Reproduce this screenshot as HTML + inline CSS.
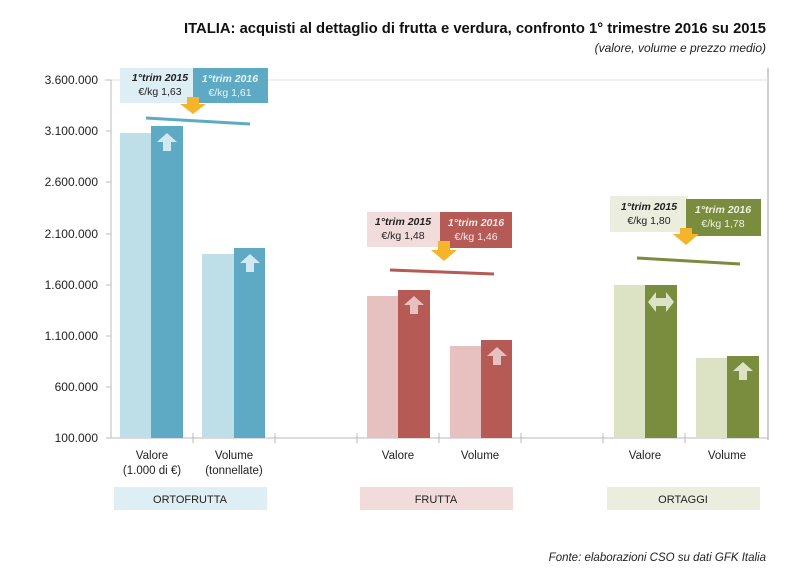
<!DOCTYPE html>
<html><head><meta charset="utf-8"><style>
body{margin:0;background:#fff;width:806px;height:576px;overflow:hidden;font-family:"Liberation Sans",sans-serif}
</style></head><body>
<svg width="806" height="576" viewBox="0 0 806 576" xmlns="http://www.w3.org/2000/svg" font-family="Liberation Sans, sans-serif">
<text x="766" y="33" text-anchor="end" font-size="14.8" font-weight="bold" fill="#111">ITALIA: acquisti al dettaglio di frutta e verdura, confronto 1° trimestre 2016 su 2015</text>
<text x="766" y="52" text-anchor="end" font-size="12" font-style="italic" fill="#222">(valore, volume e prezzo medio)</text>
<text x="766" y="561" text-anchor="end" font-size="11.5" font-style="italic" fill="#222">Fonte: elaborazioni CSO su dati GFK Italia</text>
<line x1="768" y1="68" x2="768" y2="440" stroke="#d0d0d0" stroke-width="2"/>
<line x1="104" y1="80" x2="768" y2="80" stroke="#e0e0e0"/>
<line x1="111" y1="80" x2="111" y2="438" stroke="#bbb"/>
<line x1="111" y1="438" x2="768" y2="438" stroke="#bbb"/>
<g stroke="#bbb">
<line x1="106" y1="80" x2="111" y2="80"/><line x1="106" y1="131" x2="111" y2="131"/><line x1="106" y1="182" x2="111" y2="182"/><line x1="106" y1="234" x2="111" y2="234"/><line x1="106" y1="285" x2="111" y2="285"/><line x1="106" y1="336" x2="111" y2="336"/><line x1="106" y1="387" x2="111" y2="387"/><line x1="106" y1="438" x2="111" y2="438"/>
<line x1="193" y1="433" x2="193" y2="443"/><line x1="275" y1="433" x2="275" y2="443"/><line x1="357" y1="433" x2="357" y2="443"/><line x1="439" y1="433" x2="439" y2="443"/><line x1="521" y1="433" x2="521" y2="443"/><line x1="603" y1="433" x2="603" y2="443"/><line x1="685" y1="433" x2="685" y2="443"/>
</g>
<g font-size="12" fill="#222" text-anchor="end">
<text x="98" y="84">3.600.000</text><text x="98" y="135">3.100.000</text><text x="98" y="186">2.600.000</text><text x="98" y="238">2.100.000</text><text x="98" y="289">1.600.000</text><text x="98" y="340">1.100.000</text><text x="98" y="391">600.000</text><text x="98" y="442">100.000</text>
</g>
<rect x="120" y="133" width="31" height="305" fill="#bfdfe8"/><rect x="151" y="126" width="32" height="312" fill="#5eaac4"/>
<rect x="202" y="254" width="32" height="184" fill="#bfdfe8"/><rect x="234" y="248" width="31" height="190" fill="#5eaac4"/>
<rect x="367" y="296" width="31" height="142" fill="#e6c1c0"/><rect x="398" y="290" width="32" height="148" fill="#b55a55"/>
<rect x="450" y="346" width="31" height="92" fill="#e6c1c0"/><rect x="481" y="340" width="31" height="98" fill="#b55a55"/>
<rect x="614" y="285" width="31" height="153" fill="#dce3c5"/><rect x="645" y="285" width="32" height="153" fill="#7a8c3e"/>
<rect x="696" y="358" width="31" height="80" fill="#dce3c5"/><rect x="727" y="356" width="32" height="82" fill="#7a8c3e"/>
<g fill="#d3e9f0"><polygon points="167,133 157,142 163,142 163,151 171,151 171,142 177,142"/><polygon points="250,254 240,263 246,263 246,272 254,272 254,263 260,263"/></g>
<g fill="#e6c1c0"><polygon points="414,296 404,305 410,305 410,314 418,314 418,305 424,305"/><polygon points="497,347 487,356 493,356 493,365 501,365 501,356 507,356"/></g>
<g fill="#dce3c5"><polygon points="743,362 733,371 739,371 739,380 747,380 747,371 753,371"/><polygon points="648,302 656,292 656,298 666,298 666,292 674,302 666,312 666,306 656,306 656,312"/></g>
<rect x="120" y="68" width="80" height="35" fill="#ddeef4"/><rect x="193" y="68" width="75" height="35" fill="#5eaac4"/>
<rect x="367" y="212" width="73" height="35" fill="#f2dcdb"/><rect x="440" y="212" width="72" height="36" fill="#b55a55"/>
<rect x="610" y="196" width="78" height="36" fill="#ebeede"/><rect x="686" y="199" width="75" height="37" fill="#7a8c3e"/>
<g font-size="10.5" text-anchor="middle">
<text x="160" y="81" font-weight="bold" font-style="italic" fill="#222">1°trim 2015</text><text x="160" y="95" fill="#222">€/kg 1,63</text>
<text x="230" y="82" font-weight="bold" font-style="italic" fill="#e8f4f8">1°trim 2016</text><text x="230" y="96" fill="#e8f4f8">€/kg 1,61</text>
<text x="403" y="225" font-weight="bold" font-style="italic" fill="#222">1°trim 2015</text><text x="403" y="239" fill="#222">€/kg 1,48</text>
<text x="476" y="226" font-weight="bold" font-style="italic" fill="#f8e8e8">1°trim 2016</text><text x="476" y="240" fill="#f8e8e8">€/kg 1,46</text>
<text x="649" y="210" font-weight="bold" font-style="italic" fill="#222">1°trim 2015</text><text x="649" y="224" fill="#222">€/kg 1,80</text>
<text x="723" y="213" font-weight="bold" font-style="italic" fill="#eef2e0">1°trim 2016</text><text x="723" y="227" fill="#eef2e0">€/kg 1,78</text>
</g>
<g fill="#f5b52a">
<polygon points="187,97 199,97 199,104 206,104 193,114 180,104 187,104"/>
<polygon points="438,241 450,241 450,250 457,250 444,261 431,250 438,250"/>
<polygon points="680,228 692,228 692,234 699,234 686,245 673,234 680,234"/>
</g>
<line x1="146" y1="118" x2="250" y2="124" stroke="#5eaac4" stroke-width="3"/>
<line x1="390" y1="270" x2="494" y2="274" stroke="#b55a55" stroke-width="3"/>
<line x1="637" y1="258" x2="740" y2="264" stroke="#7a8c3e" stroke-width="3"/>
<g font-size="11.5" fill="#222" text-anchor="middle">
<text x="152" y="459">Valore</text><text x="152" y="474">(1.000 di €)</text>
<text x="234" y="459">Volume</text><text x="234" y="474">(tonnellate)</text>
<text x="398" y="459">Valore</text><text x="480" y="459">Volume</text>
<text x="645" y="459">Valore</text><text x="727" y="459">Volume</text>
</g>
<rect x="114" y="487" width="153" height="23" fill="#ddeef4"/>
<rect x="360" y="487" width="153" height="23" fill="#f2dcdb"/>
<rect x="607" y="487" width="153" height="23" fill="#ebeede"/>
<g font-size="11" fill="#222" text-anchor="middle">
<text x="190" y="503">ORTOFRUTTA</text><text x="436" y="503">FRUTTA</text><text x="683" y="503">ORTAGGI</text>
</g>
</svg>
</body></html>
